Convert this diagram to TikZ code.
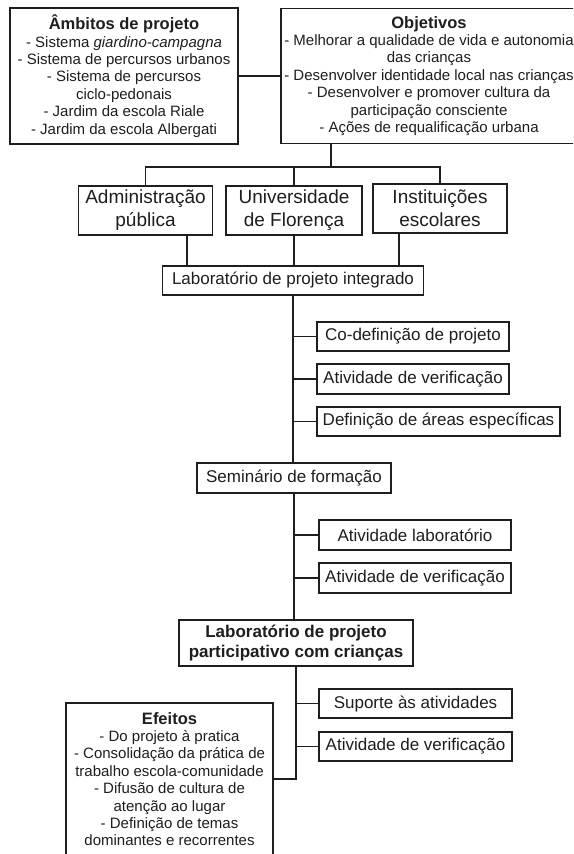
\documentclass[tikz,border=0pt]{standalone}
\usepackage{fontspec}
\setmainfont{Liberation Sans}
\usetikzlibrary{positioning}
\definecolor{ink}{HTML}{1E1E1E}

\begin{document}
\begin{tikzpicture}[x=1pt,y=-1pt,
  pbox/.style={draw=ink,line width=1.3pt,fill=white,inner sep=0pt,align=center,text=ink,
    minimum height=29pt,font=\fontsize{17}{20}\selectfont},
  inst/.style={pbox,minimum width=134pt,minimum height=49pt,font=\fontsize{19}{23}\selectfont},
  list/.style={pbox,font=\fontsize{15}{17.4}\selectfont},
  ln/.style={draw=ink,line width=1.3pt}]
\useasboundingbox (0,0) rectangle (573,854);
\clip (0,0) rectangle (573,854);
% top boxes
\node[list,minimum width=228pt,minimum height=136pt] (amb) at (124,76)
  {{\fontsize{16.5}{17.4}\selectfont\bfseries Âmbitos de projeto}\\- Sistema \textit{giardino-campagna}\\- Sistema de percursos urbanos\\- Sistema de percursos\\ciclo-pedonais\\- Jardim da escola Riale\\- Jardim da escola Albergati};
\node[list,minimum width=296pt,minimum height=135pt] (obj) at (429,76)
  {{\fontsize{16.5}{17.4}\selectfont\bfseries Objetivos}\\- Melhorar a qualidade de vida e autonomia\\das crianças\\- Desenvolver identidade local nas crianças\\- Desenvolver e promover cultura da\\participação consciente\\- Ações de requalificação urbana};
\coordinate (hub) at (331,167);
% partners
\node[inst] (adm) at (145.5,210.5) {Administração\\pública};
\node[inst,minimum width=136pt] (uni) at (294,210.5) {Universidade\\de Florença};
\node[inst] (ins) at (440,208.5) {Instituições\\escolares};
\node[pbox,minimum width=261pt] (lpi) at (293,280.5) {Laboratório de projeto integrado};
% first phase
\node[pbox,minimum width=192pt] (cod) at (413,336.5) {Co-definição de projeto};
\node[pbox,minimum width=192pt,minimum height=30pt] (av1) at (413,379) {Atividade de verificação};
\node[pbox,minimum width=243pt] (dae) at (438.5,421.5) {Definição de áreas específicas};
\node[pbox,minimum width=194pt,minimum height=30pt] (sem) at (294,478) {Seminário de formação};
% second phase
\node[pbox,minimum width=192pt,minimum height=30pt] (ala) at (415,535) {Atividade laboratório};
\node[pbox,minimum width=192pt,minimum height=30pt] (av2) at (415,578) {Atividade de verificação};
\node[pbox,minimum width=234pt,minimum height=46pt,font=\fontsize{17}{20}\selectfont\bfseries] (lpc) at (296,643)
  {Laboratório de projeto\\participativo com crianças};
% third phase
\node[pbox,minimum width=193pt] (sup) at (415.5,703.5) {Suporte às atividades};
\node[pbox,minimum width=193pt] (av3) at (415.5,746.5) {Atividade de verificação};
\node[list,minimum width=207pt,minimum height=152pt] (efe) at (169.5,779)
  {{\fontsize{16.5}{17.4}\selectfont\bfseries Efeitos}\\- Do projeto à pratica\\- Consolidação da prática de\\trabalho escola-comunidade\\- Difusão de cultura de\\atenção ao lugar\\- Definição de temas\\dominantes e recorrentes};
% connectors
\draw[ln] (amb.east) -- (obj.west);
\draw[ln] (hub |- obj.south) -- (hub);
\draw[ln] (adm.north) |- (hub) -| (ins.north);
\draw[ln] (uni.north) -- (uni.north |- hub);
\foreach \s/\n in {-106/adm,106/ins}
  \draw[ln] ([xshift=\s pt]lpi.north) -- ([xshift=\s pt]lpi.north |- \n.south);
\draw[ln] (uni.south) -- (uni.south |- lpi.north);
\draw[ln] (lpi.south) -- (lpi.south |- sem.north);
\foreach \n in {cod,av1,dae}
  \draw[ln] (\n.west) -- (\n.west -| lpi.south);
\draw[ln] (sem.south) -- (sem.south |- lpc.north);
\foreach \n in {ala,av2}
  \draw[ln] (\n.west) -- (\n.west -| sem.south);
\draw[ln] (lpc.south) |- (efe.east);
\foreach \n in {sup,av3}
  \draw[ln] (\n.west) -- (\n.west -| lpc.south);
\end{tikzpicture}
\end{document}
